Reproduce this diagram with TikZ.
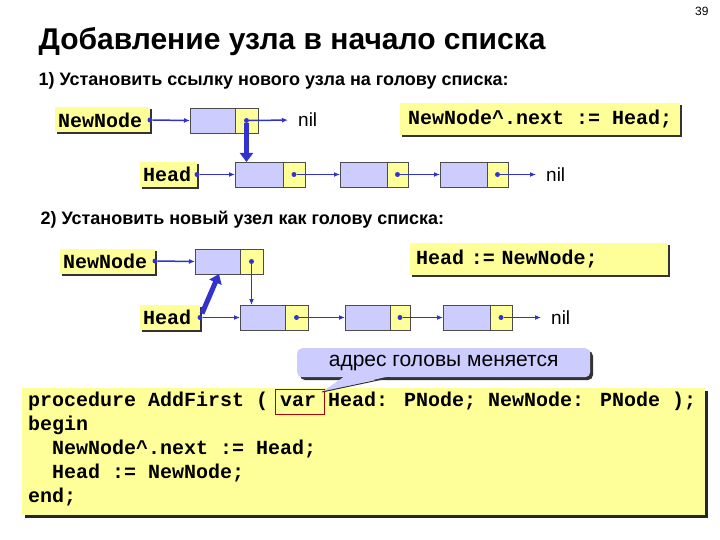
\documentclass[tikz,border=0pt]{standalone}
\usepackage{fontspec}
\setmainfont{Liberation Sans}
\newfontfamily\mono{Liberation Mono}
\usetikzlibrary{arrows.meta,shadows}
\definecolor{yel}{HTML}{FFFF99}
\definecolor{lav}{HTML}{CCCCFF}
\definecolor{arr}{HTML}{3333CC}
\tikzset{
 lbl/.style={fill=yel,draw=none,drop shadow={shadow xshift=2pt,shadow yshift=-2pt,opacity=1,fill=black!80},inner sep=2pt,anchor=north west,font=\mono\bfseries\fontsize{20}{20}\selectfont},
 dat/.style={fill=lav,draw=black!70,line width=0.6pt},
 ptr/.style={fill=yel,draw=black!70,line width=0.6pt},
 ar/.style={arr,line width=1.5pt,-{Latex[length=6pt,width=5pt]}},
 thick ar/.style={arr,line width=5pt,-{Triangle[length=9pt,width=13pt]}},
 dotc/.style={circle,fill=arr,inner sep=0pt,minimum size=5pt},
 nilt/.style={font=\fontsize{19}{19}\selectfont,anchor=west,inner sep=2pt},
}
\newcommand{\lnode}[5]{% name, x1, split, x2, y1 (height 25)
 \path[dat] (#2,#5) rectangle (#3,#5+25);
 \path[ptr] (#3,#5) rectangle (#4,#5+25);
 \coordinate (#1) at (#2,#5+12.5);
 \coordinate (#1-top) at ({(#2+#3)/2},#5);
 \coordinate (#1-bot) at ({(#2+#3)/2},#5+25);
 \node[dotc] (#1-d) at ({(#3+#4)/2},#5+12.5) {};
}
\begin{document}
\begin{tikzpicture}[x=1pt,y=-1pt]
\useasboundingbox (0,0) rectangle (720,540);
\fill[white] (0,0) rectangle (720,540);
\node[anchor=north east,font=\fontsize{12}{12}\selectfont] (pg) at (712,4) {39};
\node[anchor=base west,font=\bfseries\fontsize{30}{30}\selectfont] (title) at (35,50) {Добавление узла в начало списка};
\node[anchor=base west,font=\bfseries\fontsize{18}{18}\selectfont] (s1) at (35,86) {1) Установить ссылку нового узла на голову списка:};
% section 1
\node[lbl,minimum height=25pt,anchor=west,inner xsep=3pt,inner ysep=0pt,text width=89pt] (nn1) at (55,120) {NewNode};
\node[dotc] (nn1d) at (150,120) {};
\lnode{a}{190}{235}{258}{108}
\draw[ar] (nn1d) -- (a);
\node[nilt] (nil1) at (296,120) {nil};
\draw[ar,shorten >=8pt] (a-d) -- (nil1.west);
\node[lbl,minimum height=32pt,minimum width=280pt,anchor=north west,inner xsep=6pt,inner ysep=0pt] (c1) at (400,103) {NewNode\^{}.next := Head;};
\node[lbl,minimum height=25pt,anchor=west,inner xsep=3pt,inner ysep=0pt,text width=51pt] (hd1) at (140,174.5) {Head};
\node[dotc] (hd1d) at (197,174.5) {};
\lnode{b}{235}{283}{305}{162}
\lnode{c}{340}{387}{408}{162}
\lnode{d}{440}{487}{508}{162}
\draw[ar] (hd1d) -- (b);
\draw[ar] (b-d) -- (c);
\draw[ar] (c-d) -- (d);
\node[nilt] (nil2) at (544,174.5) {nil};
\draw[ar,shorten >=8pt] (d-d) -- (nil2.west);
\draw[thick ar] (a-d.south) coordinate (t1) -- (t1 |- b-top);
% section 2
\node[anchor=base west,font=\bfseries\fontsize{18}{18}\selectfont] (s2) at (37,225) {2) Установить новый узел как голову списка:};
\node[lbl,minimum height=25pt,anchor=west,inner xsep=3pt,inner ysep=0pt,text width=89pt] (nn2) at (60,261) {NewNode};
\node[dotc] (nn2d) at (155,261) {};
\lnode{e}{195}{240}{263}{249}
\draw[ar] (nn2d) -- (e);
\node[lbl,minimum height=32pt,minimum width=258pt,anchor=north west,inner xsep=6pt,inner ysep=0pt,text width=246pt,align=left] (c2) at (410,243) {Head := NewNode;};
\node[lbl,minimum height=25pt,anchor=west,inner xsep=3pt,inner ysep=0pt,text width=54pt] (hd2) at (140,317.5) {Head};
\node[dotc] (hd2d) at (200,317.5) {};
\lnode{f}{240}{285}{308}{305}
\lnode{g}{345}{390}{410}{305}
\lnode{h}{443}{490}{512}{305}
\draw[ar] (hd2d) -- (f);
\draw[ar] (f-d) -- (g);
\draw[ar] (g-d) -- (h);
\node[nilt] (nil3) at (549,317.5) {nil};
\draw[ar,shorten >=8pt] (h-d) -- (nil3.west);
\draw[ar] (e-d) -- (e-d |- f-top);
\draw[thick ar] (hd2d) ++(2,-4) coordinate (t2) -- (219,274);
% code
\node[fill=yel,drop shadow={shadow xshift=3pt,shadow yshift=-3pt,opacity=1,fill=black!85},minimum width=683pt,minimum height=127pt,anchor=north west,inner sep=0pt] (code) at (22,388) {};
\node[anchor=north west,align=left,inner sep=0pt,font=\mono\bfseries\fontsize{20}{24}\selectfont] (ct) at (28,392) {procedure AddFirst ( var Head: PNode; NewNode: PNode );\\begin\\\ \ NewNode\^{}.next := Head;\\\ \ Head := NewNode;\\end;};
\draw[red!70!black,line width=0.8pt] (275,389) rectangle (324,414);
\coordinate (var) at (322,392);
% callout
\fill[black!80] (300,351) [rounded corners=5pt] rectangle (593,380);
\node[fill=lav,rounded corners=5pt,minimum width=293pt,minimum height=29pt,anchor=north west,inner sep=0pt,font=\fontsize{21}{21}\selectfont] (co) at (297,348) {адрес головы меняется};
\fill[lav] (345,376) -- (var) -- (390,376) -- cycle;
\draw[black!80,line width=1pt] (var) -- (390,377.5);
\end{tikzpicture}
\end{document}
